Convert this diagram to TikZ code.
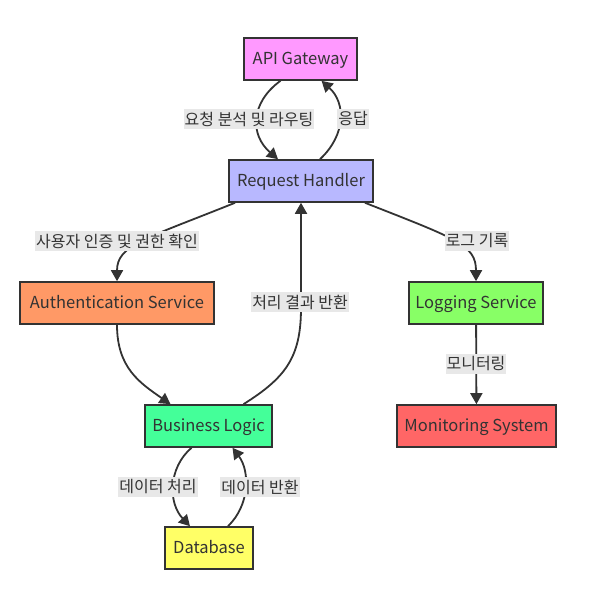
\documentclass[tikz,border=0pt]{standalone}
\usepackage{fontspec}
\setmainfont{Noto Sans CJK KR}
\usetikzlibrary{arrows.meta}

\definecolor{inkgray}{HTML}{333333}
\definecolor{lblgray}{HTML}{E8E8E8}
\definecolor{apicol}{HTML}{FF99FF}
\definecolor{rhcol}{HTML}{B8B8FF}
\definecolor{authcol}{HTML}{FF9966}
\definecolor{logcol}{HTML}{88FF66}
\definecolor{bizcol}{HTML}{44FF99}
\definecolor{moncol}{HTML}{FF6666}
\definecolor{dbcol}{HTML}{FFFF66}

\tikzset{
  box/.style={draw=inkgray, line width=1.6pt, minimum height=42pt, inner sep=0pt,
    text height=1.3em, text depth=0.2em,
    text=inkgray, font=\fontsize{16.5}{19}\selectfont},
  flow/.style={draw=inkgray, line width=1.8pt, -{Triangle[length=11pt,width=12pt]}},
  lbl/.style={fill=lblgray, text=inkgray, inner xsep=1pt, inner ysep=2.5pt,
    font=\fontsize{16}{19}\selectfont}
}

\begin{document}
\begin{tikzpicture}[x=1pt,y=1pt]

\useasboundingbox (0,0) rectangle (589,593);

% boxes
\node[box, fill=apicol,  minimum width=113pt] (api)  at (300.5,534) {API Gateway};
\node[box, fill=rhcol,   minimum width=144pt] (rh)   at (301,412)   {Request Handler};
\node[box, fill=authcol, minimum width=194pt] (auth) at (117,290)   {Authentication Service};
\node[box, fill=logcol,  minimum width=134pt] (logsvc) at (476,290) {Logging Service};
\node[box, fill=bizcol,  minimum width=127pt] (biz)  at (208.5,167) {Business Logic};
\node[box, fill=moncol,  minimum width=159pt] (mon)  at (476.5,167) {Monitoring System};
\node[box, fill=dbcol,   minimum width=88pt]  (db)   at (209,45)    {Database};

% connectors
\draw[flow] ([xshift=-20pt]api.south) .. controls (250,490) and (250,458) .. ([xshift=-23pt]rh.north);
\draw[flow] ([xshift=19pt]rh.north) .. controls (346,458) and (346,490) .. ([xshift=21pt]api.south);
\draw[flow] ([xshift=-66pt]rh.south) .. controls (145,354) and (117,348) .. (auth.north);
\draw[flow] ([xshift=64pt]rh.south) .. controls (457,354) and (476,348) .. (logsvc.north);
\draw[flow] (auth.south) .. controls (117,225) and (140,210) .. ([xshift=-38pt]biz.north);
\draw[flow] ([xshift=35pt]biz.north) .. controls (285,215) and (301,235) .. (301,285) -- (rh.south);
\draw[flow] (logsvc) -- (mon);
\draw[flow] ([xshift=-17pt]biz.south) .. controls (168,125) and (168,90) .. ([xshift=-19pt]db.north);
\draw[flow] ([xshift=19pt]db.north) .. controls (250,88) and (250,122) .. ([xshift=24pt]biz.south);

% edge labels
\node[lbl] (l1) at (249,474) {요청 분석 및 라우팅};
\node[lbl] (l2) at (353,474) {응답};
\node[lbl] (l3) at (117,352) {사용자 인증 및 권한 확인};
\node[lbl] (l4) at (477,352) {로그 기록};
\node[lbl] (l5) at (300,291) {처리 결과 반환};
\node[lbl] (l6) at (476,229) {모니터링};
\node[lbl] (l7) at (158,106) {데이터 처리};
\node[lbl] (l8) at (260,106) {데이터 반환};

\end{tikzpicture}
\end{document}
